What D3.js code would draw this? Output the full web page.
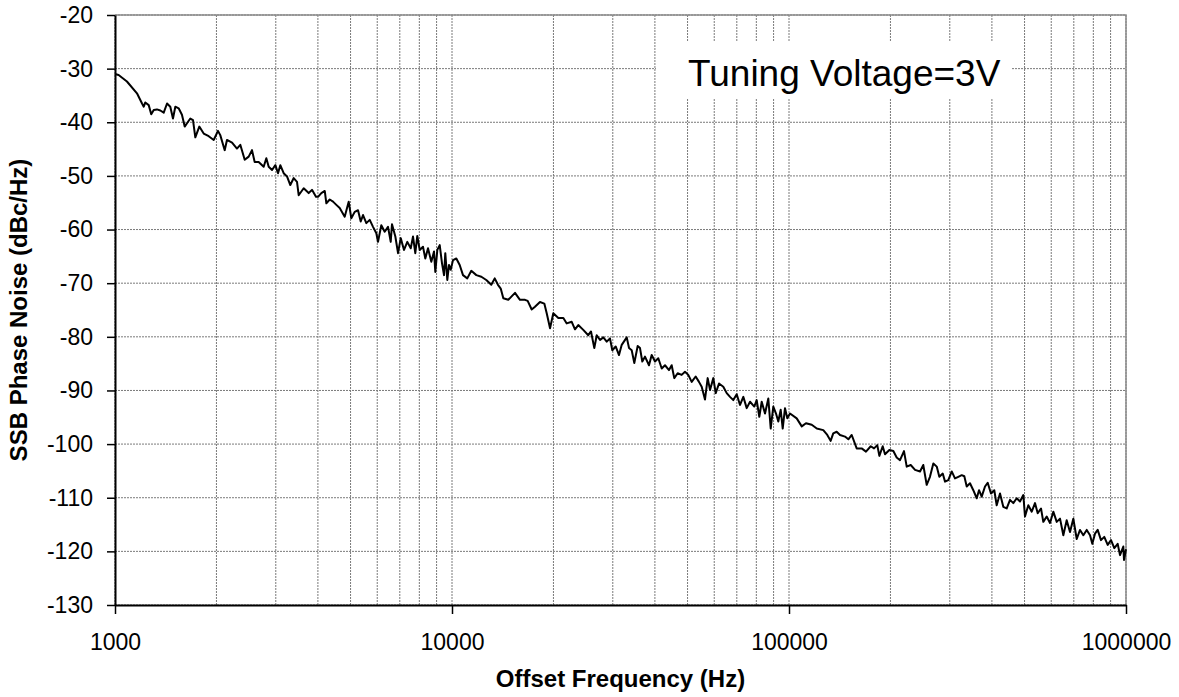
<!DOCTYPE html>
<html>
<head>
<meta charset="utf-8">
<script src="https://cdn.jsdelivr.net/npm/d3@7"></script>
<style>
  html, body { margin: 0; padding: 0; background: #fff; }
  svg { display: block; font-family: "Liberation Sans", Arial, sans-serif; }
</style>
</head>
<body>
<svg id="chart" width="1179" height="697"></svg>
<script>
// ---------------- data ----------------
const freqHz = [
  1000,1025,1085,1162,1203,1217,1230,1259,1281,1303,1332,1363,1395,1427,1459,1486,1510,1545,1580,1610,
  1647,1673,1704,1731,1779,1833,1897,1963,2021,2053,2116,2149,2225,2301,2354,2426,2493,2550,2597,2669,
  2762,2812,2858,2924,2991,3046,3094,3166,3239,3313,3391,3468,3508,3630,3756,3842,3948,
  4003,4095,4192,4238,4337,4436,4537,4643,4804,4937,5026,5144,5262,5360,5445,5569,5700,5830,5963,6032,
  6169,6314,6458,6579,6637,6790,6916,7044,7205,7369,7543,7662,7782,7889,8020,8202,8333,8488,8682,8844,
  8922,9046,9195,9340,9469,9552,9685,9797,9911,10070,10300,10540,10780,11100,11410,11810,12220,12640,13080,13390,
  13690,13950,14200,14690,15380,15910,16470,16770,17240,17630,18240,18790,19100,19540,19980,20680,21400,21900,22660,23170,
  23700,24520,25370,25850,26440,26880,27500,28120,28780,29430,29900,30600,31300,31890,33000,33520,34140,34750,35560,36130,
  36700,37380,38420,39130,40030,40940,41910,42860,44050,44860,45660,46730,48030,49130,50250,51430,52850,54060,55070,56320,
  57370,58290,59630,60610,61990,63830,65340,66830,68350,69960,71560,73190,74910,76620,78890,80190,81640,82990,84880,86820,
  88250,89830,91500,92940,94490,95790,97300,98850,100700,105400,109100,112300,116800,120900,126400,129900,132900,135300,138500,141700,
  146600,150000,153500,158800,164300,169200,174800,178800,182800,185400,189700,192700,198500,204000,208700,213500,219400,223500,229700,236600,
  244800,250300,256200,262000,268100,274400,279300,285900,290400,297000,304000,310800,318000,325500,331300,336800,344400,352300,360600,366300,
  373100,381600,388700,397500,406600,413300,422800,432400,442600,452700,463000,473900,484700,495800,501500,513000,525100,537000,547000,559500,
  568300,581700,595000,608600,622900,637100,651700,666800,682100,697700,714100,730400,747100,764600,782100,794300,809100,824100,842900,862100,
  882400,902600,923200,944800,959900,981800,986500,1000000
];
const phaseNoise = [
  -31.0,-31.2,-32.4,-34.6,-36.5,-37.1,-36.3,-36.8,-38.5,-37.7,-37.6,-37.8,-38.2,-36.5,-37.1,-39.3,-37.1,-37.4,-38.6,-40.8,
  -39.9,-39.3,-39.6,-42.8,-40.8,-42.1,-42.6,-43.3,-41.6,-42.4,-45.2,-43.3,-43.8,-44.9,-44.2,-47.0,-46.4,-45.2,-47.4,-47.4,
  -48.3,-46.7,-48.3,-48.9,-48.0,-49.5,-48.0,-49.5,-50.1,-51.7,-50.4,-51.1,-53.6,-52.3,-53.2,-52.6,-53.9,
  -53.9,-53.2,-52.8,-55.1,-54.4,-54.8,-55.4,-56.0,-57.6,-54.8,-57.9,-56.7,-56.4,-58.5,-57.3,-58.8,-58.2,-59.5,-60.7,-62.3,
  -59.2,-60.4,-59.5,-62.3,-59.0,-61.3,-64.4,-61.6,-63.8,-62.3,-63.5,-61.3,-64.4,-61.2,-63.8,-63.2,-65.4,-63.5,-66.0,-64.1,
  -67.9,-63.8,-62.9,-66.3,-68.5,-64.4,-69.4,-66.6,-67.5,-65.7,-65.4,-66.6,-68.5,-69.1,-67.7,-68.5,-68.8,-69.4,-70.3,-69.1,
  -70.3,-71.0,-72.8,-73.1,-71.8,-73.1,-73.1,-73.3,-74.9,-74.4,-73.5,-73.8,-75.6,-78.4,-75.6,-76.5,-76.5,-77.5,-77.2,-78.6,
  -77.8,-78.7,-79.7,-79.0,-82.1,-79.7,-80.6,-80.1,-80.9,-80.3,-82.5,-81.8,-83.4,-81.5,-80.1,-82.1,-82.5,-84.9,-81.7,-82.1,
  -84.6,-83.7,-85.3,-83.4,-84.6,-84.0,-85.9,-85.3,-86.2,-85.3,-87.7,-86.8,-87.1,-86.5,-87.1,-88.4,-87.4,-88.4,-89.3,-91.7,
  -87.7,-89.9,-87.7,-90.5,-88.7,-89.3,-90.5,-91.2,-91.8,-90.7,-92.7,-91.2,-93.3,-92.1,-93.0,-91.8,-94.9,-92.1,-94.3,-91.5,
  -97.1,-93.0,-94.3,-95.8,-93.6,-97.1,-93.3,-95.2,-94.3,-95.2,-96.7,-96.1,-96.4,-97.1,-97.4,-98.3,-99.4,-98.0,-97.7,-98.3,
  -98.6,-99.1,-98.3,-100.8,-100.8,-101.4,-100.4,-100.8,-100.2,-102.2,-100.4,-101.9,-101.1,-101.3,-102.5,-103.0,-101.3,-104.2,-103.9,-104.8,
  -105.1,-103.9,-107.6,-106.1,-103.6,-104.2,-106.1,-105.5,-107.0,-106.7,-105.1,-106.4,-106.1,-105.8,-106.0,-107.9,-107.3,-108.6,-110.1,-108.6,
  -109.8,-107.9,-107.2,-109.2,-108.6,-111.4,-109.2,-111.7,-112.0,-110.4,-111.0,-110.1,-110.7,-109.5,-113.5,-111.4,-112.6,-111.0,-112.9,-112.0,
  -114.5,-113.5,-114.7,-112.6,-114.5,-113.9,-117.0,-114.2,-116.4,-113.9,-117.7,-116.0,-117.0,-116.0,-117.0,-118.6,-116.7,-116.0,-117.9,-117.3,
  -118.8,-117.9,-119.4,-118.6,-120.7,-119.1,-121.6,-119.6
];
const xTickValues = [1000, 10000, 100000, 1000000];
const xTickLabels = ["1000", "10000", "100000", "1000000"];
const yTickValues = [-130, -120, -110, -100, -90, -80, -70, -60, -50, -40, -30, -20];
const yTickLabels = ["-130", "-120", "-110", "-100", "-90", "-80", "-70", "-60", "-50", "-40", "-30", "-20"];
const xTitle = "Offset Frequency (Hz)";
const yTitle = "SSB Phase Noise (dBc/Hz)";
const annotation = "Tuning Voltage=3V";

// ---------------- layout ----------------
const plot = { left: 115, right: 1126, top: 15, bottom: 605 };
const svg = d3.select("#chart");

const x = d3.scaleLog().domain([1000, 1000000]).range([plot.left, plot.right]);
const y = d3.scaleLinear().domain([-130, -20]).range([plot.bottom, plot.top]);

// grid
const grid = svg.append("g").attr("class", "grid");
grid.selectAll("line.vx").data(x.ticks()).join("line")
  .attr("x1", d => x(d)).attr("x2", d => x(d))
  .attr("y1", plot.top).attr("y2", plot.bottom)
  .attr("stroke", "#7a7a7a").attr("stroke-width", 1).attr("stroke-dasharray", "2,1");
grid.selectAll("line.hy").data(yTickValues).join("line")
  .attr("x1", plot.left).attr("x2", plot.right)
  .attr("y1", d => y(d)).attr("y2", d => y(d))
  .attr("stroke", "#7a7a7a").attr("stroke-width", 1).attr("stroke-dasharray", "2,1");
// plot area border (top, right)
svg.append("path")
  .attr("d", `M${plot.left},${plot.top}H${plot.right}V${plot.bottom}`)
  .attr("fill", "none").attr("stroke", "#8a8a8a").attr("stroke-width", 1.5);

// data line
const line = d3.line().x((d, i) => x(freqHz[i])).y(d => y(d));
svg.append("path")
  .datum(phaseNoise)
  .attr("d", line)
  .attr("fill", "none")
  .attr("stroke", "#000")
  .attr("stroke-width", 2)
  .attr("stroke-linejoin", "round");

// annotation box
const ann = svg.append("g");
ann.append("rect")
  .attr("x", 656).attr("y", 42).attr("width", 356).attr("height", 56)
  .attr("fill", "#fff");
ann.append("text")
  .attr("x", 688).attr("y", 86)
  .attr("font-size", 37)
  .attr("fill", "#000")
  .text(annotation);

// axes
const yAxis = d3.axisLeft(y)
  .tickValues(yTickValues)
  .tickFormat((d, i) => yTickLabels[i])
  .tickSize(8).tickSizeOuter(0).tickPadding(14);
const gy = svg.append("g").attr("transform", `translate(${plot.left},0)`).call(yAxis);
gy.select(".domain").attr("stroke", "#000").attr("stroke-width", 2);
gy.selectAll(".tick line").attr("stroke", "#000").attr("stroke-width", 1.5);
gy.selectAll(".tick text").attr("font-size", 23).attr("fill", "#000")
  .attr("font-family", "Liberation Sans, Arial, sans-serif");

const xAxis = d3.axisBottom(x)
  .tickValues(xTickValues)
  .tickFormat((d, i) => xTickLabels[i])
  .tickSize(9).tickSizeOuter(0).tickPadding(20);
const gx = svg.append("g").attr("transform", `translate(0,${plot.bottom})`).call(xAxis);
gx.select(".domain").attr("stroke", "#000").attr("stroke-width", 2);
gx.selectAll(".tick line").attr("stroke", "#000").attr("stroke-width", 1.5);
gx.selectAll(".tick text").attr("font-size", 23).attr("fill", "#000")
  .attr("font-family", "Liberation Sans, Arial, sans-serif");

// axis titles
svg.append("text")
  .attr("x", (plot.left + plot.right) / 2).attr("y", 687)
  .attr("text-anchor", "middle")
  .attr("font-size", 24).attr("font-weight", "bold")
  .text(xTitle);
svg.append("text")
  .attr("transform", `translate(27,${(plot.top + plot.bottom) / 2}) rotate(-90)`)
  .attr("text-anchor", "middle")
  .attr("font-size", 24).attr("font-weight", "bold")
  .text(yTitle);
</script>
</body>
</html>
